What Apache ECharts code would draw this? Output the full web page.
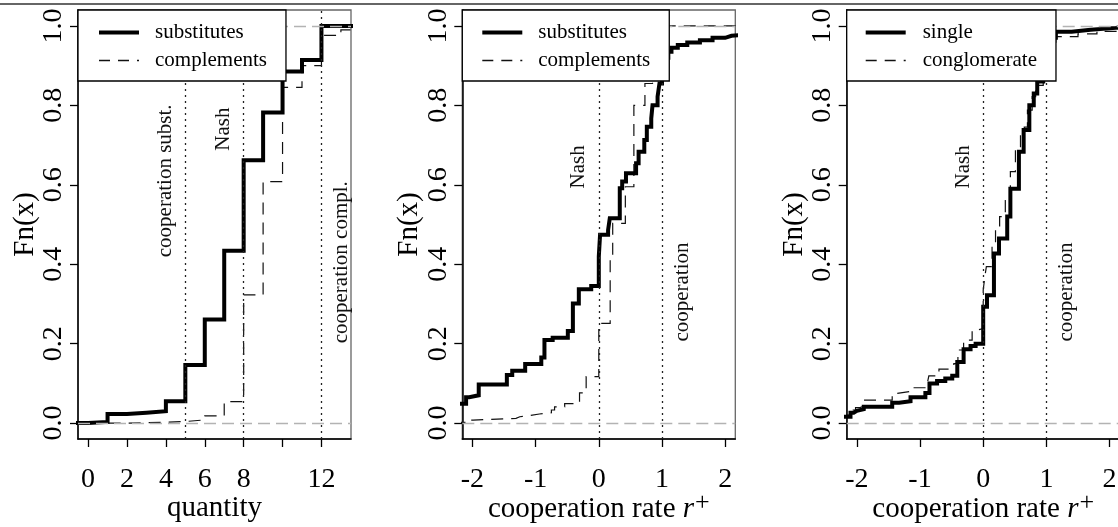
<!DOCTYPE html>
<html>
<head>
<meta charset="utf-8">
<script src="https://cdn.jsdelivr.net/npm/echarts@6.0.0/dist/echarts.min.js"></script>
<style>
  html, body { margin: 0; padding: 0; background: #fff; }
  #chart { width: 1118px; height: 527px; }
</style>
</head>
<body>
<div id="chart"></div>
<script>
// tick values
const qtyTicks = [0, 2, 4, 6, 8, 10, 12];
const qtyLabels = [0, 2, 4, 6, 8, 12];
const rateTicks = [-2, -1, 0, 1, 2];
const fnTicks = [0, 0.2, 0.4, 0.6, 0.8, 1];

// panel 1: quantity, [x, Fn(x)] at each jump
const qtySubst = [[-1, 0], [0, 0.003], [1, 0.023], [2, 0.026], [3, 0.030], [4, 0.055], [5, 0.146],
  [6, 0.261], [7, 0.434], [8, 0.662], [9, 0.782], [10, 0.885], [11, 0.914], [12, 1.0], [14, 1.0]];
const qtyCompl = [[-1, 0], [2, 0.001], [3, 0.002], [4, 0.004], [5, 0.008], [6, 0.018], [7, 0.054],
  [8, 0.323], [9, 0.608], [10, 0.845], [11, 0.90], [12, 0.976], [13, 0.99], [14, 0.99]];

// panel 2: cooperation rate, substitutes vs complements
const rateSubst = [[-2.3, 0.049], [-2.10, 0.065], [-2.05, 0.07], [-1.90, 0.097], [-1.455, 0.121],
  [-1.37, 0.132], [-1.165, 0.149], [-0.91, 0.165], [-0.86, 0.209], [-0.73, 0.215], [-0.49, 0.232],
  [-0.41, 0.301], [-0.316, 0.337], [-0.12, 0.345], [0.0, 0.419], [0.02, 0.474], [0.147, 0.486],
  [0.174, 0.516], [0.332, 0.591], [0.37, 0.608], [0.43, 0.629], [0.59, 0.654], [0.63, 0.683],
  [0.72, 0.713], [0.76, 0.746], [0.83, 0.767], [0.85, 0.80], [0.93, 0.822], [0.96, 0.855],
  [1.0, 0.88], [1.03, 0.90], [1.06, 0.92], [1.1, 0.935], [1.15, 0.945], [1.25, 0.952],
  [1.4, 0.958], [1.6, 0.964], [1.8, 0.97], [2.0, 0.975], [2.1, 0.978], [2.3, 0.978]];
const rateCompl = [[-2.3, 0.002], [-2.07, 0.0076], [-1.99, 0.012], [-1.31, 0.016], [-1.25, 0.019],
  [-1.10, 0.023], [-0.94, 0.026], [-0.75, 0.033], [-0.70, 0.041], [-0.54, 0.049], [-0.305, 0.076],
  [-0.20, 0.117], [0.0, 0.251], [0.18, 0.42], [0.22, 0.503], [0.42, 0.595], [0.555, 0.80],
  [0.73, 0.855], [0.85, 0.92], [0.95, 0.97], [1.0, 1.0], [2.3, 1.0]];

// panel 3: cooperation rate, single vs conglomerate
const rateSingle = [[-2.3, 0.016], [-2.10, 0.026], [-2.05, 0.031], [-2.0, 0.035], [-1.89, 0.041],
  [-1.44, 0.051], [-1.33, 0.055], [-1.15, 0.065], [-0.915, 0.076], [-0.85, 0.10], [-0.73, 0.106],
  [-0.60, 0.112], [-0.49, 0.119], [-0.41, 0.154], [-0.31, 0.186], [-0.20, 0.194], [-0.12, 0.20],
  [0.0, 0.293], [0.06, 0.322], [0.17, 0.427], [0.25, 0.465], [0.38, 0.52], [0.43, 0.59],
  [0.565, 0.683], [0.64, 0.738], [0.73, 0.80], [0.80, 0.83], [0.855, 0.86], [0.95, 0.92],
  [1.05, 0.97], [1.15, 0.985], [1.4, 0.99], [1.7, 0.995], [2.1, 0.999], [2.3, 0.999]];
const rateConglo = [[-2.3, 0.02], [-2.10, 0.033], [-2.02, 0.039], [-1.95, 0.043], [-1.89, 0.058],
  [-1.44, 0.075], [-1.36, 0.08], [-1.15, 0.089], [-0.89, 0.096], [-0.86, 0.119], [-0.70, 0.136],
  [-0.545, 0.14], [-0.465, 0.15], [-0.40, 0.184], [-0.31, 0.209], [-0.175, 0.234], [-0.10, 0.238],
  [0.0, 0.335], [0.03, 0.373], [0.05, 0.394], [0.14, 0.452], [0.195, 0.486], [0.26, 0.52],
  [0.35, 0.56], [0.43, 0.633], [0.51, 0.69], [0.59, 0.725], [0.65, 0.745], [0.70, 0.788],
  [0.775, 0.822], [0.83, 0.85], [0.95, 0.91], [1.05, 0.95], [1.15, 0.973], [1.5, 0.98],
  [1.8, 0.986], [2.15, 0.991], [2.3, 0.991]];

// vertical reference lines per panel
const refLinesX = [[5, 8, 12], [0, 1], [0, 1]];

// annotation text at (x, Fn) of each panel, side = -1 left of line, 1 right
const annotations = [
  { panel: 0, x: 5, y: 0.61, text: 'cooperation subst.', side: -1 },
  { panel: 0, x: 8, y: 0.74, text: 'Nash', side: -1 },
  { panel: 0, x: 12, y: 0.405, text: 'cooperation compl.', side: 1 },
  { panel: 1, x: 0, y: 0.645, text: 'Nash', side: -1 },
  { panel: 1, x: 1, y: 0.33, text: 'cooperation', side: 1 },
  { panel: 2, x: 0, y: 0.645, text: 'Nash', side: -1 },
  { panel: 2, x: 1, y: 0.33, text: 'cooperation', side: 1 },
];

const font = '"Liberation Serif", "DejaVu Serif", serif';

const panels = [
  { left: 78, min: -0.52, max: 13.52, ticks: qtyTicks, labels: qtyLabels, xName: 'quantity', nameGap: 55,
    names: ['substitutes', 'complements'], thick: qtySubst, thin: qtyCompl, legPad: [12, 19, 10, 19], textPad: 11 },
  { left: 462.3, min: -2.16, max: 2.16, ticks: rateTicks, labels: rateTicks, xName: 'cooperation rate {i|r}{sup|+}', nameGap: 51,
    names: ['substitutes', 'complements'], thick: rateSubst, thin: rateCompl, legPad: [12, 19, 10, 18], textPad: 11 },
  { left: 846.7, min: -2.16, max: 2.16, ticks: rateTicks, labels: rateTicks, xName: 'cooperation rate {i|r}{sup|+}', nameGap: 51,
    names: ['single', 'conglomerate'], thick: rateSingle, thin: rateConglo, legPad: [12, 19, 10, 17], textPad: 12 },
];

const chart = echarts.init(document.getElementById('chart'));

const grid = [], xAxis = [], yAxis = [], series = [], legend = [];

panels.forEach((p, i) => {
  grid.push({
    left: p.left, top: 10, width: 273, height: 429, outerBoundsMode: 'none', containLabel: false,
    show: true, borderColor: '#666', borderWidth: 1.3, backgroundColor: 'transparent'
  });
  xAxis.push({
    gridIndex: i, type: 'value', min: p.min, max: p.max,
    name: p.xName, nameLocation: 'middle', nameGap: p.nameGap, nameMoveOverlap: false,
    nameTextStyle: {
      fontSize: 29, fontFamily: font, color: '#000',
      rich: {
        i: { fontSize: 29, fontFamily: font, fontStyle: 'italic', color: '#000' },
        sup: { fontSize: 26, fontFamily: font, color: '#000', verticalAlign: 'top', padding: [0, 0, 12, 1] }
      }
    },
    axisLine: { show: true, onZero: false, lineStyle: { color: '#000', width: 1.5 } },
    axisTick: { show: true, length: 8, customValues: p.ticks, lineStyle: { color: '#000', width: 1.3 } },
    axisLabel: { customValues: p.labels, margin: 27, fontSize: 28, fontFamily: font, color: '#000' },
    splitLine: { show: false }
  });
  yAxis.push({
    gridIndex: i, type: 'value', min: -0.04, max: 1.04,
    name: 'Fn(x)', nameLocation: 'middle', nameRotate: 90, nameGap: 38, nameMoveOverlap: false,
    nameTextStyle: { fontSize: 29, fontFamily: font, color: '#000' },
    axisLine: { show: true, onZero: false, lineStyle: { color: '#000', width: 1.5 } },
    axisTick: { show: true, length: 8, customValues: fnTicks, lineStyle: { color: '#000', width: 1.3 } },
    axisLabel: {
      customValues: fnTicks, rotate: 90, margin: 10, fontSize: 28, fontFamily: font, color: '#000',
      formatter: (v) => v.toFixed(1)
    },
    splitLine: { show: false }
  });

  const marks = [
    { yAxis: 0, lineStyle: { color: '#b3b3b3', type: [12, 6], width: 1.3 } },
    { yAxis: 1, lineStyle: { color: '#b3b3b3', type: [12, 6], width: 1.3 } },
  ];
  refLinesX[i].forEach((v) => {
    marks.push({ xAxis: v, lineStyle: { color: '#222', type: [2, 4], width: 1.3 } });
  });
  series.push({
    type: 'line', name: 'ref' + i, xAxisIndex: i, yAxisIndex: i, data: [], z: 1,
    markLine: { silent: true, symbol: ['none', 'none'], label: { show: false }, animation: false, data: marks }
  });
  series.push({
    type: 'line', name: p.names[1], xAxisIndex: i, yAxisIndex: i, data: p.thin, step: 'end',
    symbol: 'none', z: 3, animation: false, itemStyle: { color: '#111' },
    lineStyle: { color: '#111', width: 1.2, type: [12, 8], join: 'miter' }
  });
  series.push({
    type: 'line', name: p.names[0], xAxisIndex: i, yAxisIndex: i, data: p.thick, step: 'end',
    symbol: 'none', z: 4, animation: false, itemStyle: { color: '#000' },
    lineStyle: { color: '#000', width: 4, join: 'miter', cap: 'butt' }
  });

  legend.push({
    orient: 'vertical', left: p.left, top: 10, selectedMode: false, z: 10,
    data: [
      { name: p.names[0], itemStyle: { opacity: 0 }, lineStyle: { color: '#000', width: 4, type: 'solid' } },
      { name: p.names[1], itemStyle: { opacity: 0 }, lineStyle: { color: '#111', width: 1.3, type: [11, 8] } }
    ],
    backgroundColor: '#fff', borderColor: '#000', borderWidth: 1.3, borderRadius: 0,
    padding: p.legPad, itemWidth: 40, itemHeight: 14, itemGap: 7,
    textStyle: { fontSize: 21, fontFamily: font, color: '#000', padding: [0, 0, 0, p.textPad] }
  });
});

chart.setOption({
  animation: false,
  backgroundColor: '#fff',
  grid: grid,
  xAxis: xAxis,
  yAxis: yAxis,
  legend: legend,
  series: series
});

const graphics = [{
  type: 'line', shape: { x1: 0, y1: 4, x2: 1118, y2: 4 },
  style: { stroke: '#333', lineWidth: 1.5 }, z: 20
}];
annotations.forEach((a) => {
  const pt = chart.convertToPixel({ gridIndex: a.panel }, [a.x, a.y]);
  graphics.push({
    type: 'text', x: pt[0] + a.side * 20, y: pt[1], rotation: Math.PI / 2, z: 5,
    style: {
      text: a.text, fontSize: 21, fontFamily: font, fill: '#111',
      align: 'center', verticalAlign: 'middle', textAlign: 'center', textVerticalAlign: 'middle'
    }
  });
});
chart.setOption({ graphic: graphics });
</script>
</body>
</html>
